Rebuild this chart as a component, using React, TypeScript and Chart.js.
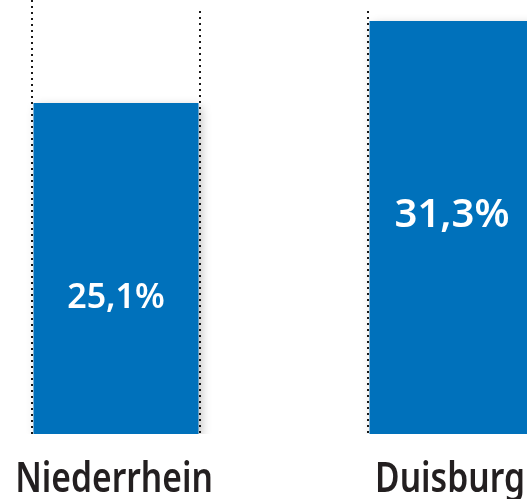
import React, { useEffect, useRef } from "react";
import { Chart, registerables } from "chart.js";

Chart.register(...registerables);

const categories = ["Niederrhein", "Duisburg"];
const values = [25.1, 31.3];
const valueLabels = ["25,1%", "31,3%"];
const yMax = 32.9;

const BAR_COLOR = "#0071BB";

const decorPlugin = {
  id: "decor",
  beforeDatasetsDraw(chart: any) {
    const ctx = chart.ctx;
    const meta = chart.getDatasetMeta(0);
    const area = chart.chartArea;
    ctx.save();
    ctx.strokeStyle = "#1a1a1a";
    ctx.lineWidth = 2;
    ctx.setLineDash([2, 4]);
    meta.data.forEach((bar: any, i: number) => {
      const half = bar.width / 2;
      const lines = [
        { x: bar.x - half - 1.5, top: i === 0 ? area.top : area.top + 11 },
        { x: bar.x + half + 1.5, top: area.top + 11 },
      ];
      lines.forEach((l) => {
        ctx.beginPath();
        ctx.moveTo(Math.round(l.x), l.top);
        ctx.lineTo(Math.round(l.x), bar.base);
        ctx.stroke();
      });
    });
    ctx.restore();
    ctx.save();
    ctx.shadowColor = "rgba(0,0,0,0.28)";
    ctx.shadowBlur = 10;
    ctx.shadowOffsetX = 3;
    ctx.shadowOffsetY = 4;
  },
  afterDatasetsDraw(chart: any) {
    const ctx = chart.ctx;
    ctx.restore();
    const meta = chart.getDatasetMeta(0);
    const fracs = [0.41, 0.53];
    const sizes = [34, 40];
    ctx.save();
    meta.data.forEach((bar: any, i: number) => {
      ctx.textAlign = "center";
      ctx.textBaseline = "middle";
      ctx.fillStyle = "#ffffff";
      ctx.font = `600 ${sizes[i]}px "Noto Sans", sans-serif`;
      const y = bar.base - (bar.base - bar.y) * fracs[i];
      ctx.fillText(valueLabels[i], bar.x, y);

      ctx.save();
      ctx.fillStyle = "#231f20";
      ctx.font = `600 42px "Noto Sans", sans-serif`;
      ctx.textBaseline = "alphabetic";
      ctx.translate(bar.x - 2, bar.base + 58);
      ctx.scale(0.8, 1);
      ctx.fillText(categories[i], 0, 0);
      ctx.restore();
    });
    ctx.restore();
  },
};

export default function App() {
  const ref = useRef<HTMLCanvasElement | null>(null);
  useEffect(() => {
    if (!ref.current) return;
    const chart = new Chart(ref.current, {
      type: "bar",
      data: {
        labels: categories,
        datasets: [
          {
            data: values,
            backgroundColor: BAR_COLOR,
            borderWidth: 0,
            barPercentage: 0.491,
            categoryPercentage: 1,
          },
        ],
      },
      options: {
        animation: false,
        responsive: true,
        maintainAspectRatio: false,
        layout: { padding: { left: 0, right: 0, top: 0, bottom: 65 } },
        plugins: { legend: { display: false }, tooltip: { enabled: false } },
        scales: {
          x: { display: false },
          y: { display: false, min: 0, max: yMax },
        },
      },
      plugins: [decorPlugin],
    });
    return () => chart.destroy();
  }, []);
  return (
    <div
      style={{
        position: "fixed",
        left: 0,
        top: 0,
        width: 527,
        height: 499,
        overflow: "hidden",
        background: "#fff",
      }}
    >
      <div style={{ position: "absolute", left: -52.5, top: 0, width: 672, height: 499 }}>
        <canvas ref={ref} />
      </div>
    </div>
  );
}
